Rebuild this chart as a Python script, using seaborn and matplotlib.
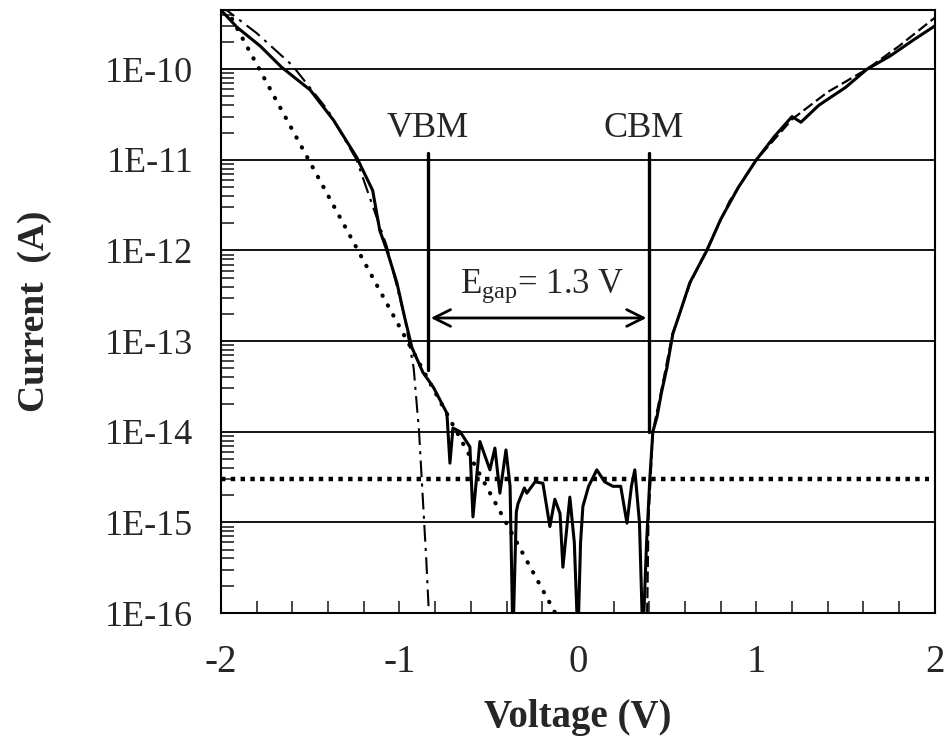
import numpy as np
import pandas as pd
import seaborn as sns
import matplotlib.pyplot as plt
from matplotlib.ticker import FixedLocator, LogLocator, NullFormatter

# measured I-V curve (solid)
volt = [-2.00, -1.91, -1.78, -1.66, -1.50, -1.37, -1.24, -1.15, -1.11, -1.07,
        -1.014, -0.97, -0.93, -0.868, -0.81, -0.734, -0.717, -0.700,
        -0.66, -0.605, -0.588, -0.549, -0.493, -0.465, -0.437, -0.403, -0.38, -0.364,
        -0.345, -0.336, -0.30, -0.286, -0.24, -0.196, -0.157, -0.129, -0.10, -0.084,
        -0.045, -0.02, 0.0, 0.015, 0.028, 0.06, 0.106, 0.15, 0.196, 0.24,
        0.275, 0.30, 0.319, 0.345, 0.364, 0.385, 0.403, 0.42, 0.443, 0.47,
        0.499, 0.532, 0.58, 0.627, 0.723, 0.80, 0.90, 1.00, 1.10, 1.20,
        1.25, 1.35, 1.50, 1.62, 1.75, 1.88, 2.00]
current = [4.5e-10, 2.9e-10, 1.8e-10, 1.05e-10, 5.9e-11, 2.75e-11, 1.07e-11, 4.6e-12, 1.66e-12, 1.0e-12,
           4.4e-13, 1.8e-13, 8.5e-14, 4.5e-14, 3.1e-14, 1.6e-14, 4.5e-15, 1.1e-14,
           1.0e-14, 6.8e-15, 1.15e-15, 7.8e-15, 3.8e-15, 6.6e-15, 2.1e-15, 6.3e-15, 2.5e-15, 5e-17,
           1.3e-15, 1.6e-15, 2.4e-15, 2.1e-15, 2.8e-15, 2.7e-15, 9e-16, 1.8e-15, 1.25e-15, 3.2e-16,
           1.9e-15, 6e-16, 5e-17, 6e-16, 1.5e-15, 2.5e-15, 3.8e-15, 2.8e-15, 2.5e-15, 2.5e-15,
           9.8e-16, 2.5e-15, 3.8e-15, 1e-15, 5e-17, 6e-16, 3.0e-15, 1.0e-14, 1.45e-14, 2.8e-14,
           5.1e-14, 1.2e-13, 2.3e-13, 4.4e-13, 1.0e-12, 2.2e-12, 5.0e-12, 1.0e-11, 1.8e-11, 3.0e-11,
           2.6e-11, 4.0e-11, 6.3e-11, 1.0e-10, 1.4e-10, 2.1e-10, 3.0e-10]

# valence band fit (dash-dot)
vb_volt = [-2.0, -1.8, -1.6, -1.4, -1.24, -1.07, -0.97, -0.92, -0.89, -0.87, -0.85, -0.835, -0.825]
vb_current = [5e-10, 2.5e-10, 1.1e-10, 3.5e-11, 1e-11, 1.1e-12, 1.8e-13, 5e-14, 1e-14, 2e-15, 4e-16, 1e-16, 2.5e-17]

# conduction band fit (dashed)
cb_volt = [0.385, 0.395, 0.42, 0.47, 0.53, 0.63, 0.72, 0.85, 1.0, 1.2, 1.4, 1.62, 1.8, 2.0]
cb_current = [3e-17, 1e-15, 1e-14, 3e-14, 1.2e-13, 4.4e-13, 1e-12, 3.5e-12, 1e-11, 2.8e-11, 5.6e-11, 1e-10, 1.8e-10, 3.7e-10]

# tail fit (dotted) and noise floor
tail_volt = [-2.0, -0.10]
tail_current = [6e-10, 8e-17]
floor_level = 3e-15

vbm, cbm = -0.84, 0.40

sns.set_style("ticks")
plt.rcParams['font.family'] = ['Liberation Serif', 'DejaVu Serif']
plt.rcParams['mathtext.fontset'] = 'custom'
plt.rcParams['mathtext.rm'] = 'Liberation Serif'
plt.rcParams['mathtext.it'] = 'Liberation Serif:italic'

fig = plt.figure(figsize=(9.5, 7.4), dpi=100)
ax = fig.add_axes([0.2326, 0.1716, 0.984 - 0.2326, 0.9865 - 0.1716])
ax.set_yscale('log')

for y in [1e-15, 1e-14, 1e-13, 1e-12, 1e-11, 1e-10]:
    ax.axhline(y, color='black', lw=1.3, zorder=1)

df = pd.DataFrame({'V': volt, 'I': current})
sns.lineplot(data=df, x='V', y='I', ax=ax, color='black', lw=2.2, sort=False, zorder=4)
sns.lineplot(x=vb_volt, y=vb_current, ax=ax, color='black', lw=1.5, sort=False,
             linestyle=(0, (8, 3, 1.5, 3)), zorder=3)
sns.lineplot(x=cb_volt, y=cb_current, ax=ax, color='black', lw=1.6, sort=False,
             linestyle=(0, (5, 2)), zorder=3)
sns.lineplot(x=tail_volt, y=tail_current, ax=ax, color='black', lw=3, sort=False,
             linestyle=(0, (0.1, 2.6)), dash_capstyle='round', zorder=3)
ax.plot([-2.0, 1.97], [floor_level, floor_level], color='black', lw=3.2,
        linestyle=(0, (1, 1.2)), zorder=3)

# band edges
ax.plot([vbm, vbm], [1.2e-11, 4.8e-14], color='black', lw=2.4, zorder=5)
ax.plot([cbm, cbm], [1.2e-11, 1e-14], color='black', lw=2.4, zorder=5)
ax.annotate('', xy=(vbm, 1.8e-13), xytext=(cbm, 1.8e-13),
            arrowprops=dict(arrowstyle='<->', color='black', lw=2, mutation_scale=30))
ax.text(vbm, 1.8e-11, 'VBM', ha='center', va='baseline', fontsize=26)
ax.text(cbm - 0.03, 1.8e-11, 'CBM', ha='center', va='baseline', fontsize=26)
ax.text(-0.20, 3.4e-13, r'E$_{\mathrm{gap}}$= 1.3 V', ha='center', va='baseline', fontsize=25)

ax.set_xlim(-2, 2)
ax.set_ylim(1e-16, 4.5e-10)
ax.xaxis.set_major_locator(FixedLocator([-2, -1, 0, 1, 2]))
ax.xaxis.set_minor_locator(FixedLocator(np.arange(-1.8, 2.0, 0.2)))
ax.set_xticklabels(['-2', '-1', '0', '1', '2'])
ax.yaxis.set_major_locator(FixedLocator([1e-16, 1e-15, 1e-14, 1e-13, 1e-12, 1e-11, 1e-10]))
ax.set_yticklabels(['1E-16', '1E-15', '1E-14', '1E-13', '1E-12', '1E-11', '1E-10'])
ax.yaxis.set_minor_locator(LogLocator(base=10, subs=np.arange(2, 10), numticks=20))
ax.yaxis.set_minor_formatter(NullFormatter())
ax.tick_params(axis='x', which='both', direction='in', length=9, width=1.2, pad=22,
               labelsize=28, top=False)
ax.tick_params(axis='y', which='major', direction='in', length=0, pad=20, labelsize=26)
ax.tick_params(axis='y', which='minor', direction='in', length=9, width=1.2, right=False)
for s in ax.spines.values():
    s.set_linewidth(1.5)
    s.set_color('black')

ax.set_xlabel('Voltage (V)', fontsize=28, fontweight='bold', labelpad=13)
ax.set_ylabel('Current  (A)', fontsize=27, fontweight='bold', labelpad=38)

fig.savefig('out.png', dpi=100)
